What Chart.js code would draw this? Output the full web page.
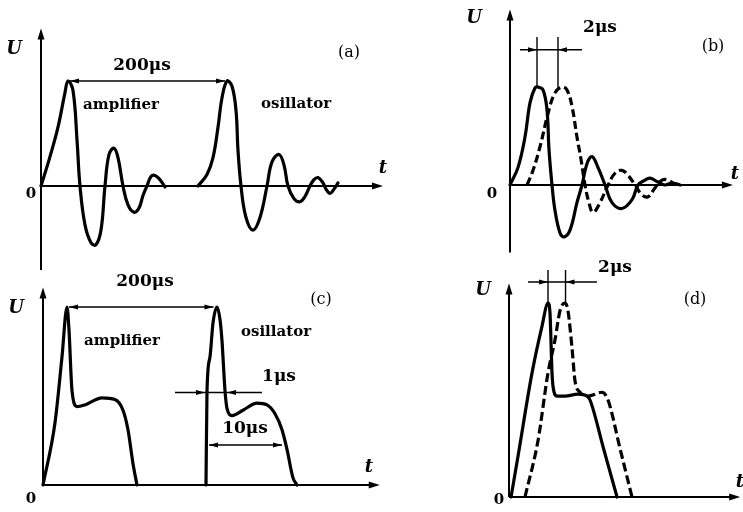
<!DOCTYPE html>
<html><head><meta charset="utf-8">
<script src="https://cdn.jsdelivr.net/npm/chart.js@4"></script>
<style>
html,body{margin:0;padding:0;background:#fff;}
body{width:743px;height:512px;position:relative;overflow:hidden;font-family:"DejaVu Serif",serif;color:#000;}
canvas{position:absolute;}
.lbl{position:absolute;transform:translate(-50%,-50%);white-space:nowrap;line-height:1;font-size:15px;font-weight:bold;}
.ax{font-style:italic;font-weight:bold;font-size:18px;}
.us{font-size:17px;}
.tag{font-size:16px;font-weight:normal;}
.num{font-size:15px;}
</style></head><body>
<canvas id="ca" width="400" height="275" style="left:0;top:0"></canvas>
<canvas id="cb" width="288" height="260" style="left:455px;top:0"></canvas>
<canvas id="cc" width="400" height="237" style="left:0;top:275px"></canvas>
<canvas id="cd" width="288" height="252" style="left:455px;top:260px"></canvas>

<div class="lbl ax" style="left:14px;top:48px">U</div>
<div class="lbl us" style="left:142px;top:64px">200μs</div>
<div class="lbl tag" style="left:349px;top:52px">(a)</div>
<div class="lbl" style="left:121px;top:104px">amplifier</div>
<div class="lbl" style="left:296px;top:103px">osillator</div>
<div class="lbl num" style="left:31px;top:193px">0</div>
<div class="lbl ax" style="left:383px;top:167px">t</div>

<div class="lbl ax" style="left:474px;top:17px">U</div>
<div class="lbl us" style="left:600px;top:26px">2μs</div>
<div class="lbl tag" style="left:713px;top:46px">(b)</div>
<div class="lbl num" style="left:492px;top:193px">0</div>
<div class="lbl ax" style="left:735px;top:173px">t</div>

<div class="lbl us" style="left:145px;top:280px">200μs</div>
<div class="lbl ax" style="left:16px;top:307px">U</div>
<div class="lbl tag" style="left:321px;top:299px">(c)</div>
<div class="lbl" style="left:122px;top:340px">amplifier</div>
<div class="lbl" style="left:276px;top:331px">osillator</div>
<div class="lbl us" style="left:279px;top:375px">1μs</div>
<div class="lbl us" style="left:245px;top:427px">10μs</div>
<div class="lbl num" style="left:31px;top:498px">0</div>
<div class="lbl ax" style="left:369px;top:466px">t</div>

<div class="lbl us" style="left:615px;top:266px">2μs</div>
<div class="lbl ax" style="left:483px;top:289px">U</div>
<div class="lbl tag" style="left:695px;top:299px">(d)</div>
<div class="lbl num" style="left:499px;top:499px">0</div>
<div class="lbl ax" style="left:740px;top:481px">t</div>

<script>
// ---- data (t in μs, U normalised to peak = 1) ----
// (a) amplifier / oscillator
const aAmpT = [0,11.25,21.25,30,33.75,40,45,48.75,55,62.5,68.75,75,80,85,91.25,96.25,102.5,108.75,116.25,122.5,127.5,132.5,137.5,142.5,148.75,155];
const aAmpU = [0,0.28,0.56,0.89,1.00,0.91,0.44,0,-0.37,-0.54,-0.56,-0.42,0,0.30,0.36,0.27,0,-0.18,-0.25,-0.21,-0.09,0,0.09,0.10,0.06,-0.01];
const aOscT = [196.25,207.5,215,221.25,226.25,232.5,238.75,243.75,246.25,250,256.25,265,273.75,282.5,288.75,297.5,303.75,308.75,316.25,323.75,330,336.25,341.25,346.25,352.5,356.25,361.25,366.25,371.25];
const aOscU = [0,0.11,0.27,0.56,0.84,1.00,0.95,0.72,0.34,0,-0.30,-0.42,-0.30,0,0.23,0.30,0.20,0,-0.12,-0.15,-0.10,0,0.06,0.08,0.03,-0.03,-0.07,-0.03,0.03];
const aSpan = [33.75, 232.5];           // 200 μs between peaks
// (b) solid / dashed
const bSolT = [0,0.67,1.25,1.67,2.08,2.33,2.75,3.08,3.25,3.5,3.75,4.17,4.5,5,5.58,6,6.42,6.83,7.33,7.92,8.5,9.33,10.17,10.67,11.25,11.67,12.33,12.92,13.5,14.17];
const bSolU = [0,0.18,0.49,0.84,0.99,1.00,0.97,0.77,0.36,0,-0.26,-0.49,-0.53,-0.46,-0.18,0,0.22,0.29,0.18,0,-0.18,-0.24,-0.15,0,0.05,0.07,0.03,0,0.02,0];
const bDashT = [1.42,1.92,2.5,3.17,3.75,4.33,4.75,5.17,5.58,5.92,6.25,6.58,6.92,7.5,8.17,8.75,9.33,9.83,10.42,11,11.5,12.08,12.67,13.17,13.75];
const bDashU = [0,0.15,0.39,0.73,0.94,1.00,0.97,0.80,0.49,0.26,0,-0.18,-0.28,-0.18,0,0.12,0.15,0.10,0,-0.10,-0.12,-0.03,0.05,0.05,0];
const bMarks = [2.25, 4.0];             // 2 μs
// (c) amplifier / oscillator
const cAmpT = [0,16,25.33,32,34.67,38.67,45.33,56,78.67,96,106.67,113.33,120,125.33];
const cAmpU = [0,0.35,0.72,1.00,0.87,0.53,0.44,0.45,0.49,0.48,0.42,0.31,0.12,0];
const cOscT = [217.33,218.67,222.67,226.67,232,236,238.67,242.67,245.33,252,266.67,285.33,298.67,309.33,318.67,325.33,333.33,338.67];
const cOscU = [0,0.53,0.72,0.91,1.00,0.93,0.81,0.53,0.43,0.39,0.42,0.46,0.45,0.40,0.31,0.20,0.04,0];
const cSpan = [32, 230];                // 200 μs
const c1us = [216, 245.3];              // 1 μs
const c10us = [221.3, 318.7];           // 10 μs
// (d) solid / dashed
const dSolT = [0.24,1.06,2.71,3.88,4.59,4.82,5.06,5.18,5.65,6.59,8.12,9.18,9.53,11.12,12.71];
const dSolU = [0,0.21,0.64,0.88,1.00,0.95,0.64,0.57,0.52,0.52,0.53,0.52,0.50,0.25,0];
const dDashT = [1.88,3.41,4.59,5.41,6,6.59,6.94,7.41,7.76,8.35,9.29,10.94,11.65,13.06,14.47];
const dDashU = [0,0.29,0.64,0.81,0.96,1.00,0.96,0.77,0.60,0.54,0.52,0.54,0.50,0.25,0];
const dMarks = [4.59, 6.65];            // 2 μs

// ---- helpers ----
const zip = (t,u) => t.map((v,i)=>({x:v,y:u[i]}));
function seg(ctx,x1,y1,x2,y2){ctx.beginPath();ctx.moveTo(x1,y1);ctx.lineTo(x2,y2);ctx.stroke();}
function head(ctx,x,y,dir,len,hw){
  ctx.beginPath();
  if(dir==='up'){ctx.moveTo(x,y);ctx.lineTo(x-hw,y+len);ctx.lineTo(x+hw,y+len);}
  else if(dir==='right'){ctx.moveTo(x,y);ctx.lineTo(x-len,y-hw);ctx.lineTo(x-len,y+hw);}
  else {ctx.moveTo(x,y);ctx.lineTo(x+len,y-hw);ctx.lineTo(x+len,y+hw);}
  ctx.closePath();ctx.fill();
}
const decor = {
  id:'decor',
  beforeDatasetsDraw(chart, args, o){
    const ctx = chart.ctx, xs = chart.scales.x, ys = chart.scales.y;
    const X = v=>xs.getPixelForValue(v), Y = v=>ys.getPixelForValue(v);
    ctx.save(); ctx.strokeStyle='#000'; ctx.fillStyle='#000'; ctx.lineWidth=2;
    const x0 = X(0), y0 = Y(0);
    seg(ctx,x0,Y(o.yBot),x0,Y(o.yTop)+6); head(ctx,x0,Y(o.yTop),'up',11,3.5);
    seg(ctx,x0,y0,X(o.xEnd)-6,y0); head(ctx,X(o.xEnd),y0,'right',11,3.5);
    ctx.lineWidth=1.4;
    if(o.extra) o.extra(ctx,X,Y);
    ctx.restore();
  }
};
function make(id, box, org, sx, sy, axes, datasets, smooth){
  const xmin=(0-(org[0]-box[0]))/sx, xmax=(box[2]-(org[0]-box[0]))/sx;
  const ymax=(org[1]-box[1])/sy, ymin=(org[1]-box[1]-box[3])/sy;
  return new Chart(document.getElementById(id),{
    type:'line',
    data:{datasets:datasets.map(d=>({
      data:d.data, borderColor:'#000', borderWidth:3.2, pointRadius:0, fill:false,
      cubicInterpolationMode:smooth?'default':'monotone', tension:smooth?0.4:0,
      borderDash:d.dash||[], borderCapStyle:d.dash?'butt':'round',
      borderJoinStyle:'round'}))},
    options:{responsive:false, animation:false, events:[],
      layout:{padding:0},
      scales:{x:{type:'linear',display:false,min:xmin,max:xmax},y:{type:'linear',display:false,min:ymin,max:ymax}},
      plugins:{legend:{display:false},tooltip:{enabled:false},decor:axes}},
    plugins:[decor]
  });
}

// (a)
make('ca',[0,0,400,275],[41,186],0.8,105,
  {yTop:1.50,yBot:-0.80,xEnd:427.5,extra:(ctx,X,Y)=>{
    const y=Y(1.0), l=X(aSpan[0])+2, r=X(aSpan[1])-2;
    seg(ctx,l,y,r,y); head(ctx,l,y,'left',9,2.5); head(ctx,r,y,'right',9,2.5);
  }},
  [{data:zip(aAmpT,aAmpU)},{data:zip(aOscT,aOscU)}], true);

// (b)
make('cb',[455,0,288,260],[510,185],12,98,
  {yTop:1.79,yBot:-0.69,xEnd:18.58,extra:(ctx,X,Y)=>{
    bMarks.forEach(t=>seg(ctx,X(t),Y(1.51),X(t),Y(0.99)));
    const y=Y(1.38);
    seg(ctx,X(0.83),y,X(6.0),y);
    head(ctx,X(bMarks[0]),y,'right',9,2.5); head(ctx,X(bMarks[1]),y,'left',9,2.5);
  }},
  [{data:zip(bSolT,bSolU)},{data:zip(bDashT,bDashU),dash:[8,4]}], true);

// (c)
make('cc',[0,275,400,237],[43,485],0.75,178,
  {yTop:1.11,yBot:0,xEnd:449,extra:(ctx,X,Y)=>{
    let y=Y(1.0), l=X(cSpan[0])+2, r=X(cSpan[1])-2;
    seg(ctx,l,y,r,y); head(ctx,l,y,'left',9,2.5); head(ctx,r,y,'right',9,2.5);
    y=Y(0.52);
    seg(ctx,X(176),y,X(292),y);
    head(ctx,X(c1us[0]),y,'right',9,2.5); head(ctx,X(c1us[1]),y,'left',9,2.5);
    y=Y(0.225); l=X(c10us[0]); r=X(c10us[1]);
    seg(ctx,l,y,r,y); head(ctx,l,y,'left',9,2.5); head(ctx,r,y,'right',9,2.5);
  }},
  [{data:zip(cAmpT,cAmpU)},{data:zip(cOscT,cOscU)}], false);

// (d)
make('cd',[455,260,288,252],[509,497],8.5,194,
  {yTop:1.10,yBot:0,xEnd:27.2,extra:(ctx,X,Y)=>{
    dMarks.forEach(t=>seg(ctx,X(t),Y(1.17),X(t),Y(1.0)));
    const y=Y(1.108);
    seg(ctx,X(2.24),y,X(10.35),y);
    head(ctx,X(dMarks[0]),y,'right',9,2.5); head(ctx,X(dMarks[1]),y,'left',9,2.5);
  }},
  [{data:zip(dSolT,dSolU)},{data:zip(dDashT,dDashU),dash:[9,4]}], false);
</script>
</body></html>
